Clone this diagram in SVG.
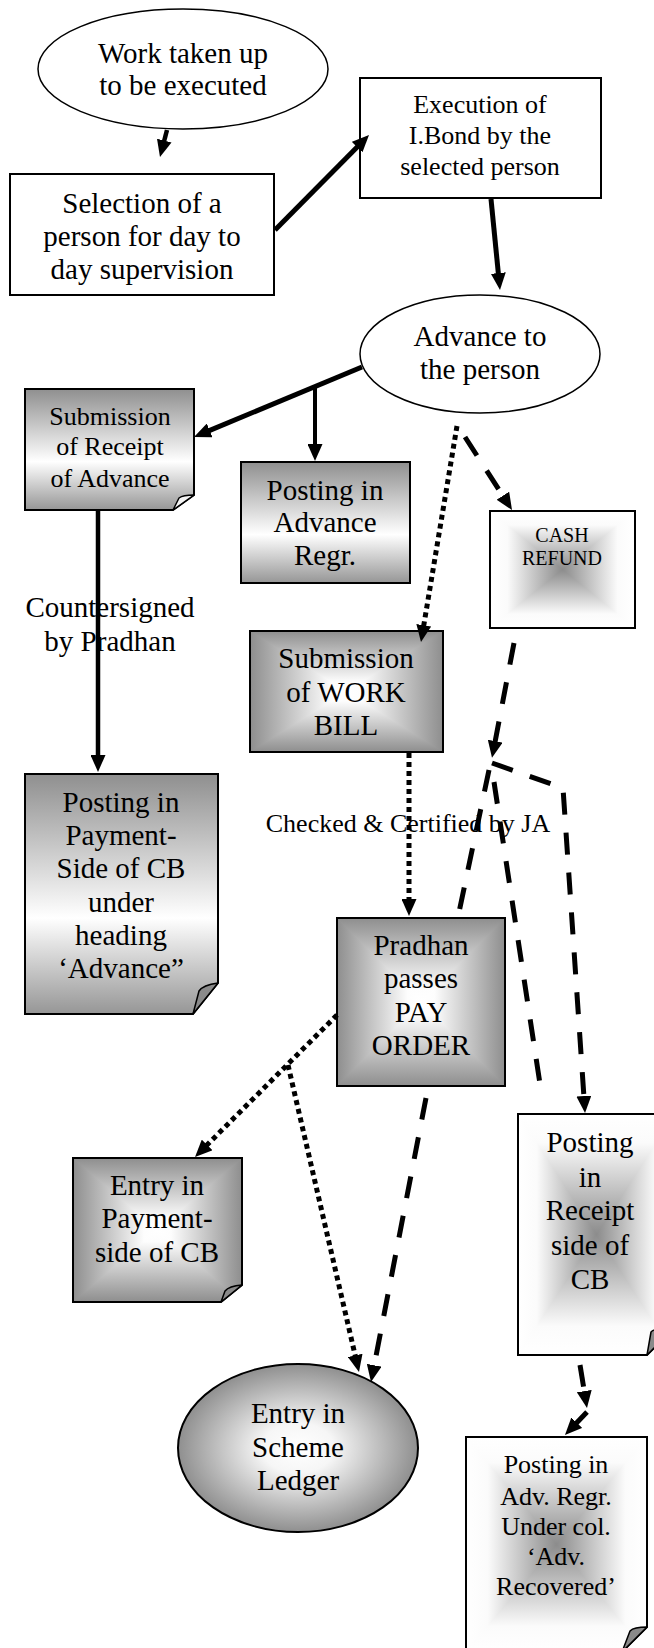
<svg xmlns="http://www.w3.org/2000/svg" width="654" height="1648" viewBox="0 0 654 1648">
<style>
.t{font-family:"Liberation Serif","Times New Roman",serif;font-size:29px;text-anchor:middle;fill:#000}
.s{font-size:26px}
.xs{font-size:20px}
.box{stroke:#000;stroke-width:2}
.ol{fill:none;stroke:#000;stroke-width:2}
.flap{fill:#8a8a8a;stroke:#000;stroke-width:1.5;stroke-linejoin:round}
.flapw{fill:#f4f4f4;stroke:#000;stroke-width:1.5;stroke-linejoin:round}
.c{fill:none;stroke:#000}
.sol{marker-end:url(#ah)}
.dot{stroke-width:5;stroke-dasharray:5 4}
.dash{stroke-width:5;stroke-dasharray:22 18}
</style>
<defs>
<marker id="ah" markerUnits="userSpaceOnUse" markerWidth="17" markerHeight="15" viewBox="0 0 17 15" refX="9" refY="7.5" orient="auto"><path d="M0,0 L17,7.5 L0,15 z" fill="#000"/></marker>
<linearGradient id="gV" x1="0" y1="0" x2="0" y2="1"><stop offset="0" stop-color="#8f8f8f"/><stop offset="0.6" stop-color="#ffffff"/><stop offset="1" stop-color="#969696"/></linearGradient>
<linearGradient id="cgV" x1="0" y1="0" x2="0" y2="1"><stop offset="0" stop-color="#fff"/><stop offset="0.12" stop-color="#fbfbfb"/><stop offset="0.5" stop-color="#8c8c8c"/><stop offset="0.88" stop-color="#fbfbfb"/><stop offset="1" stop-color="#fff"/></linearGradient>
<linearGradient id="cgL" x1="0" y1="0" x2="1" y2="0"><stop offset="0" stop-color="#fff"/><stop offset="0.24" stop-color="#fbfbfb"/><stop offset="1" stop-color="#8c8c8c"/></linearGradient>
<linearGradient id="cgR" x1="1" y1="0" x2="0" y2="0"><stop offset="0" stop-color="#fff"/><stop offset="0.24" stop-color="#fbfbfb"/><stop offset="1" stop-color="#8c8c8c"/></linearGradient>
<linearGradient id="cwV" x1="0" y1="0" x2="0" y2="1"><stop offset="0" stop-color="#8e8e8e"/><stop offset="0.42" stop-color="#fdfdfd"/><stop offset="0.5" stop-color="#fff"/><stop offset="0.58" stop-color="#fdfdfd"/><stop offset="1" stop-color="#8e8e8e"/></linearGradient>
<linearGradient id="cwL" x1="0" y1="0" x2="1" y2="0"><stop offset="0" stop-color="#8e8e8e"/><stop offset="0.84" stop-color="#fdfdfd"/><stop offset="1" stop-color="#fff"/></linearGradient>
<linearGradient id="cwR" x1="1" y1="0" x2="0" y2="0"><stop offset="0" stop-color="#8e8e8e"/><stop offset="0.84" stop-color="#fdfdfd"/><stop offset="1" stop-color="#fff"/></linearGradient>
<radialGradient id="rg" cx="0.5" cy="0.5" r="0.5"><stop offset="0" stop-color="#fff"/><stop offset="0.3" stop-color="#f6f6f6"/><stop offset="1" stop-color="#8f8f8f"/></radialGradient>
</defs>
<rect width="654" height="1648" fill="#fff"/>

<g id="n1">
<ellipse cx="183" cy="69" rx="145" ry="60" fill="#fff" stroke="#000" stroke-width="1.5"/>
<text class="t" x="183" y="63">Work taken up</text>
<text class="t" x="183" y="95">to be executed</text>
</g>

<g id="n2">
<rect class="box" x="10" y="174" width="264" height="121" fill="#fff"/>
<text class="t" x="142" y="213">Selection of a</text>
<text class="t" x="142" y="246">person for day to</text>
<text class="t" x="142" y="279">day supervision</text>
</g>

<g id="n3">
<rect class="box" x="360" y="78" width="241" height="120" fill="#fff"/>
<text class="t s" x="480" y="113">Execution of</text>
<text class="t s" x="480" y="144">I.Bond by the</text>
<text class="t s" x="480" y="175">selected person</text>
</g>

<g id="n4">
<ellipse cx="480" cy="354" rx="120" ry="59" fill="#fff" stroke="#000" stroke-width="1.5"/>
<text class="t" x="480" y="346">Advance to</text>
<text class="t" x="480" y="379">the person</text>
</g>

<g id="n5">
<path class="box" d="M25,389 H194 V495 L173,510 H25 Z" fill="url(#gV)"/>
<path class="flapw" d="M173,510 L194,495 Q183,495 179,498 Z"/>
<text class="t s" x="110" y="425">Submission</text>
<text class="t s" x="110" y="455">of Receipt</text>
<text class="t s" x="110" y="487">of Advance</text>
</g>

<g id="n6">
<rect class="box" x="241" y="462" width="169" height="121" fill="url(#gV)"/>
<text class="t" x="325" y="500">Posting in</text>
<text class="t" x="325" y="532">Advance</text>
<text class="t" x="325" y="565">Regr.</text>
</g>

<g id="n7">
<rect x="490" y="511" width="145" height="117" fill="url(#cgV)"/>
<polygon points="490,511 562.5,569.5 490,628" fill="url(#cgL)"/>
<polygon points="635,511 562.5,569.5 635,628" fill="url(#cgR)"/>
<rect class="ol" x="490" y="511" width="145" height="117"/>
<text class="t xs" x="562" y="542">CASH</text>
<text class="t xs" x="562" y="565">REFUND</text>
</g>

<g id="n8">
<rect x="250" y="631" width="193" height="121" fill="url(#cwV)"/>
<polygon points="250,631 346.5,691.5 250,752" fill="url(#cwL)"/>
<polygon points="443,631 346.5,691.5 443,752" fill="url(#cwR)"/>
<rect class="ol" x="250" y="631" width="193" height="121"/>
<text class="t" x="346" y="668">Submission</text>
<text class="t" x="346" y="702">of WORK</text>
<text class="t" x="346" y="735">BILL</text>
</g>

<g id="n9">
<path class="box" d="M25,774 H218 V983 L193,1014 H25 Z" fill="url(#gV)"/>
<path class="flap" d="M193,1014 L218,983 Q203,985 199,991 Z"/>
<text class="t" x="121" y="812">Posting in</text>
<text class="t" x="121" y="845">Payment-</text>
<text class="t" x="121" y="878">Side of CB</text>
<text class="t" x="121" y="912">under</text>
<text class="t" x="121" y="945">heading</text>
<text class="t" x="121" y="978">‘Advance”</text>
</g>

<g id="n10">
<rect x="337" y="918" width="168" height="168" fill="url(#cwV)"/>
<polygon points="337,918 421,1002 337,1086" fill="url(#cwL)"/>
<polygon points="505,918 421,1002 505,1086" fill="url(#cwR)"/>
<rect class="ol" x="337" y="918" width="168" height="168"/>
<text class="t" x="421" y="955">Pradhan</text>
<text class="t" x="421" y="988">passes</text>
<text class="t" x="421" y="1022">PAY</text>
<text class="t" x="421" y="1055">ORDER</text>
</g>

<g id="n11">
<rect x="73" y="1158" width="169" height="144" fill="url(#cwV)"/>
<polygon points="73,1158 157.5,1230 73,1302" fill="url(#cwL)"/>
<polygon points="242,1158 157.5,1230 242,1302" fill="url(#cwR)"/>
<polygon points="221,1303 243,1303 243,1285" fill="#fff"/>
<path class="ol" d="M73,1158 H242 V1285 L221,1302 H73 Z"/>
<path class="flap" d="M221,1302 L242,1285 Q229,1286 225,1291 Z"/>
<text class="t" x="157" y="1195">Entry in</text>
<text class="t" x="157" y="1228">Payment-</text>
<text class="t" x="157" y="1262">side of CB</text>
</g>

<g id="n12">
<rect x="518" y="1114" width="157" height="241" fill="url(#cgV)"/>
<polygon points="518,1114 596.5,1234.5 518,1355" fill="url(#cgL)"/>
<polygon points="675,1114 596.5,1234.5 675,1355" fill="url(#cgR)"/>
<polygon points="647,1356 676,1356 676,1327" fill="#fff"/>
<path class="ol" d="M518,1114 H675 V1327 L647,1355 H518 Z"/>
<path class="flap" d="M647,1355 L675,1327 Q656,1327 651,1332 Z"/>
<text class="t" x="590" y="1152">Posting</text>
<text class="t" x="590" y="1187">in</text>
<text class="t" x="590" y="1220">Receipt</text>
<text class="t" x="590" y="1255">side of</text>
<text class="t" x="590" y="1289">CB</text>
</g>

<g id="n13">
<ellipse cx="298" cy="1448" rx="120" ry="84" fill="url(#rg)" stroke="#000" stroke-width="2"/>
<text class="t" x="298" y="1423">Entry in</text>
<text class="t" x="298" y="1457">Scheme</text>
<text class="t" x="298" y="1490">Ledger</text>
</g>

<g id="n14">
<rect x="466" y="1437" width="181" height="215" fill="url(#cgV)"/>
<polygon points="466,1437 556.5,1544.5 466,1652" fill="url(#cgL)"/>
<polygon points="647,1437 556.5,1544.5 647,1652" fill="url(#cgR)"/>
<polygon points="622,1653 648,1653 648,1627" fill="#fff"/>
<path class="ol" d="M466,1437 H647 V1627 L622,1652 H466 Z"/>
<path class="flap" d="M622,1652 L647,1627 Q634,1627 630,1631 Z"/>
<text class="t s" x="556" y="1473">Posting in</text>
<text class="t s" x="556" y="1505">Adv. Regr.</text>
<text class="t s" x="556" y="1535">Under col.</text>
<text class="t s" x="556" y="1565">‘Adv.</text>
<text class="t s" x="556" y="1595">Recovered’</text>
</g>

<g id="labels">
<text class="t" x="110" y="617">Countersigned</text>
<text class="t" x="110" y="651">by Pradhan</text>
<text class="t s" x="408" y="832">Checked &amp; Certified by JA</text>
</g>

<g id="connectors">
<path class="c sol" stroke-width="4.5" d="M167,130 L162,149.3"/>
<path class="c sol" stroke-width="5" d="M275,230 L363.4,140.7"/>
<path class="c sol" stroke-width="5" d="M491,199 L499.2,282"/>
<path class="c sol" stroke-width="5" d="M362,367 L201.4,433.9"/>
<path class="c sol" stroke-width="4" d="M315,387 L315,453"/>
<path class="c sol" stroke-width="4.5" d="M98,510 L98,764"/>
<path class="c dot sol" d="M457,426 L422.3,634.1"/>
<path class="c dash sol" d="M465,437 L507.7,503.3"/>
<path class="c dot sol" d="M409,753 L409,908"/>
<path class="c dash sol" d="M514,643 L493.5,750"/>
<path class="c dash sol" d="M492,763 L563,788 L584.5,1105"/>
<path class="c dash" d="M489,770 L458,917"/>
<path class="c dash" d="M494,782 L542,1097"/>
<path class="c dot sol" d="M337,1015 L200.7,1151.3"/>
<path class="c dot sol" d="M288,1065 L357.2,1364.2"/>
<path class="c dash sol" d="M426,1098 L372.5,1374.1"/>
<path class="c dash sol" d="M580,1365 L585.7,1400"/>
<path class="c sol" stroke-width="5" d="M587,1412 L570.5,1429.2"/>
</g>
</svg>
